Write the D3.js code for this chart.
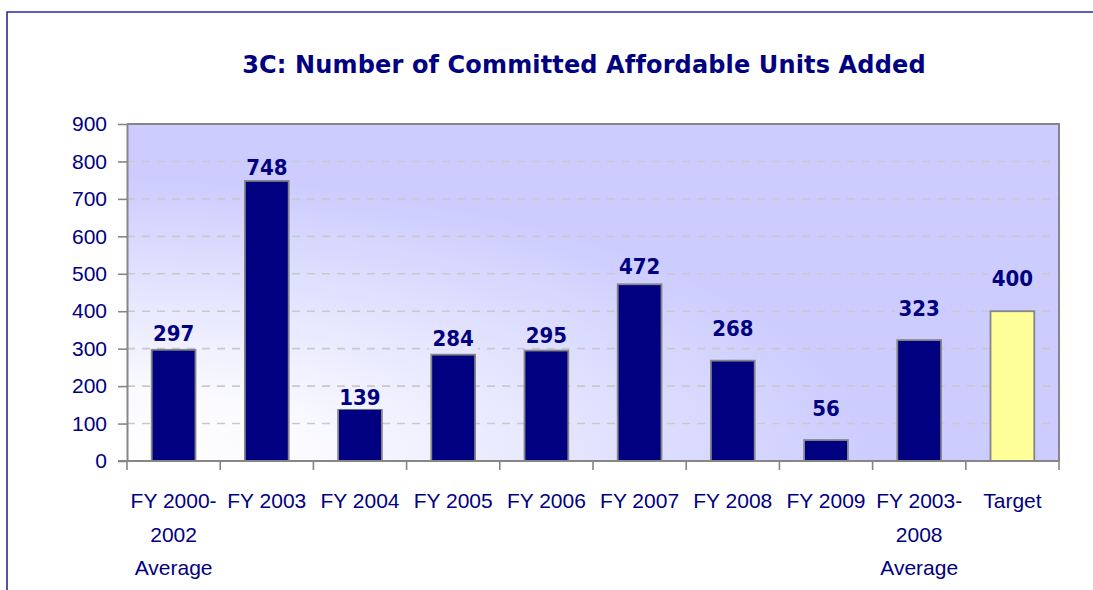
<!DOCTYPE html>
<html>
<head>
<meta charset="utf-8">
<script src="https://cdn.jsdelivr.net/npm/d3@7"></script>
<style>
  html, body { margin: 0; padding: 0; background: #ffffff; }
  svg { display: block; }
</style>
</head>
<body>
<svg id="chart" width="1093" height="590"></svg>
<script>
// Committed affordable units added, by fiscal year
const categories = [
  "FY 2000-\n2002\nAverage",
  "FY 2003",
  "FY 2004",
  "FY 2005",
  "FY 2006",
  "FY 2007",
  "FY 2008",
  "FY 2009",
  "FY 2003-\n2008\nAverage",
  "Target"
];
const units = [297, 748, 139, 284, 295, 472, 268, 56, 323, 400];
const isTarget = [false, false, false, false, false, false, false, false, false, true];
const yTicks = [0, 100, 200, 300, 400, 500, 600, 700, 800, 900];
const titleText = "3C: Number of Committed Affordable Units Added";

// Layout: gap (px) between each bar top and its value label
const labelGap = [9, 6, 4, 9, 8, 10, 25, 24, 24, 25];

const svg = d3.select("#chart");
const W = 1093, H = 590;
const plot = { left: 127, right: 1059, top: 124, bottom: 461 };

const navy = "#000080";
const axisGray = "#868686";

// Background gradient: white near the lower left, lavender elsewhere
const defs = svg.append("defs");
const grad = defs.append("radialGradient")
  .attr("id", "plotGrad")
  .attr("gradientUnits", "userSpaceOnUse")
  .attr("cx", plot.left).attr("cy", plot.bottom)
  .attr("fx", plot.left).attr("fy", plot.bottom)
  .attr("r", plot.right - plot.left)
  .attr("gradientTransform",
    `translate(${plot.left},${plot.bottom}) scale(1,${(plot.bottom - plot.top) / (plot.right - plot.left) * 1.05}) translate(${-plot.left},${-plot.bottom})`);
grad.append("stop").attr("offset", "0").attr("stop-color", "#ffffff");
grad.append("stop").attr("offset", "0.2").attr("stop-color", "#fafaff");
grad.append("stop").attr("offset", "0.8").attr("stop-color", "#ccccff");
grad.append("stop").attr("offset", "1").attr("stop-color", "#ccccff");

// Outer frame (top and left edges)
svg.append("path")
  .attr("d", `M7,${H} L7,12 L${W},12`)
  .attr("fill", "none")
  .attr("stroke", "#2a2a9c")
  .attr("stroke-width", 1.6);

// Title
const title = svg.append("text")
  .attr("x", 584)
  .attr("y", 73)
  .attr("text-anchor", "middle")
  .attr("font-family", "'DejaVu Sans', Verdana, sans-serif")
  .attr("font-weight", "bold")
  .attr("font-size", 24)
  .attr("fill", navy)
  .text(titleText);
{
  const target = 682;
  const len = title.node().getComputedTextLength();
  const ls = (target - len) / (titleText.length - 1);
  title.attr("letter-spacing", ls.toFixed(2));
}

// Scales
const x = d3.scaleBand()
  .domain(d3.range(categories.length))
  .range([plot.left, plot.right])
  .padding(0);
const y = d3.scaleLinear()
  .domain([0, 900])
  .range([plot.bottom, plot.top]);
const barW = x.bandwidth() * 0.47;

// Plot background
svg.append("rect")
  .attr("x", plot.left).attr("y", plot.top)
  .attr("width", plot.right - plot.left)
  .attr("height", plot.bottom - plot.top)
  .attr("fill", "url(#plotGrad)");

// Dashed gridlines
svg.append("g")
  .selectAll("line")
  .data(yTicks.filter(d => d > 0 && d < 900))
  .join("line")
  .attr("x1", plot.left).attr("x2", plot.right)
  .attr("y1", d => y(d)).attr("y2", d => y(d))
  .attr("stroke", "#c9c9c9")
  .attr("stroke-width", 1.6)
  .attr("stroke-dasharray", "8,7");

// Bars
svg.append("g")
  .selectAll("rect")
  .data(units)
  .join("rect")
  .attr("x", (d, i) => x(i) + (x.bandwidth() - barW) / 2)
  .attr("y", d => y(d))
  .attr("width", barW)
  .attr("height", d => y(0) - y(d))
  .attr("fill", (d, i) => isTarget[i] ? "#ffff99" : navy)
  .attr("stroke", axisGray)
  .attr("stroke-width", 1.8);

// Value labels, each on a patch of the plot background
const labels = svg.append("g")
  .selectAll("g")
  .data(units)
  .join("g");
labels.append("rect").attr("class", "bg");
labels.append("text")
  .attr("x", (d, i) => x(i) + x.bandwidth() / 2)
  .attr("y", (d, i) => y(d) - labelGap[i])
  .attr("text-anchor", "middle")
  .attr("font-family", "'DejaVu Sans Condensed', 'DejaVu Sans', sans-serif")
  .attr("font-stretch", "condensed")
  .attr("font-weight", "bold")
  .attr("font-size", 22)
  .attr("fill", navy)
  .text(d => d3.format("d")(d));
labels.each(function () {
  const g = d3.select(this);
  const b = g.select("text").node().getBBox();
  g.select("rect.bg")
    .attr("x", b.x - 4).attr("y", b.y + 3)
    .attr("width", b.width + 8).attr("height", b.height - 4)
    .attr("fill", "url(#plotGrad)");
});

// Plot border: top and right
svg.append("path")
  .attr("d", `M${plot.left},${plot.top} L${plot.right},${plot.top} L${plot.right},${plot.bottom}`)
  .attr("fill", "none")
  .attr("stroke", axisGray)
  .attr("stroke-width", 2);

// Y axis
const yAxis = svg.append("g")
  .attr("transform", `translate(${plot.left},0)`)
  .call(d3.axisLeft(y).tickValues(yTicks).tickSize(9).tickPadding(11).tickSizeOuter(0));
yAxis.select(".domain").attr("stroke", axisGray).attr("stroke-width", 2);
yAxis.selectAll(".tick line").attr("stroke", axisGray).attr("stroke-width", 1.6);
yAxis.selectAll(".tick text")
  .attr("font-family", "'Liberation Sans', Arial, sans-serif")
  .attr("font-size", 21)
  .attr("fill", navy);

// X axis: ticks at category boundaries
const boundaries = d3.range(categories.length + 1).map(i => plot.left + i * x.step());
svg.append("g")
  .selectAll("line")
  .data(boundaries)
  .join("line")
  .attr("x1", d => d).attr("x2", d => d)
  .attr("y1", plot.bottom).attr("y2", plot.bottom + 9)
  .attr("stroke", axisGray)
  .attr("stroke-width", 1.6);
svg.append("line")
  .attr("x1", plot.left - 9).attr("x2", plot.right)
  .attr("y1", plot.bottom).attr("y2", plot.bottom)
  .attr("stroke", axisGray)
  .attr("stroke-width", 2);

// Category labels (multi-line)
const catText = svg.append("g")
  .selectAll("text")
  .data(categories)
  .join("text")
  .attr("x", (d, i) => x(i) + x.bandwidth() / 2)
  .attr("y", 508)
  .attr("text-anchor", "middle")
  .attr("font-family", "'Liberation Sans', Arial, sans-serif")
  .attr("font-size", 21)
  .attr("fill", navy);
catText.each(function (d, i) {
  const t = d3.select(this);
  d.split("\n").forEach((line, k) => {
    t.append("tspan")
      .attr("x", x(i) + x.bandwidth() / 2)
      .attr("dy", k === 0 ? 0 : 33.5)
      .text(line);
  });
});
</script>
</body>
</html>
